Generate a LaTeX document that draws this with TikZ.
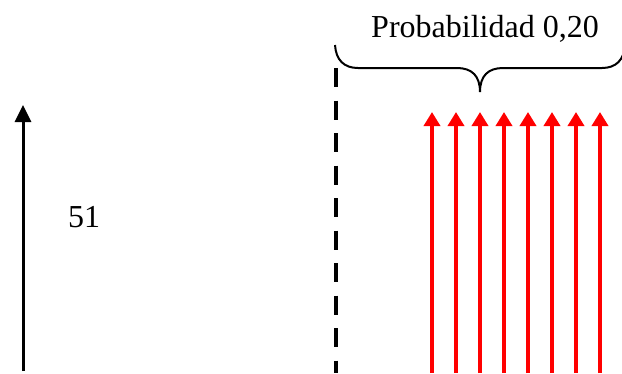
\documentclass[tikz,border=0pt]{standalone}
\usepackage{fontspec}
\setmainfont{Liberation Serif}
\usetikzlibrary{arrows.meta}
\tikzset{
  blackarrow/.style={line width=3pt,-{Triangle[width=16pt,length=17pt]}},
  redarrow/.style={red,line width=4.5pt,-{Triangle[width=16pt,length=14pt]}},
  dashline/.style={line width=3.5pt,dash pattern=on 19pt off 13.5pt},
  bracepath/.style={line width=2pt},
  lbl/.style={font=\fontsize{32}{38}\selectfont,inner sep=0pt,anchor=base}
}
\begin{document}
\begin{tikzpicture}[x=1pt,y=-1pt]
\useasboundingbox (0,0) rectangle (622,373);
% black arrow
\coordinate (b0) at (23,371);
\coordinate (b1) at (23,105);
\draw[blackarrow] (b0) -- (b1);
\node[lbl] (n51) at (84,227) {51};
% dashed line
\coordinate (d0) at (336,68);
\coordinate (d1) at (336,373);
\draw[dashline] (d0) -- (d1);
% brace
\coordinate (bl) at (335,45);
\coordinate (bt) at (480,92);
\coordinate (br) at (625,45);
\draw[bracepath] (bl) .. controls (336,60) and (344,68) .. (358,68)
  -- (457,68) .. controls (472,68) and (480,76) .. (bt)
  .. controls (480,76) and (488,68) .. (503,68)
  -- (602,68) .. controls (616,68) and (624,60) .. (br);
\node[lbl] (prob) at (485,37) {Probabilidad 0,20};
% red arrows
\foreach \i in {0,...,7}{
  \coordinate (r\i a) at (432+24*\i,373);
  \coordinate (r\i b) at (432+24*\i,112);
  \draw[redarrow] (r\i a) -- (r\i b);
}
\end{tikzpicture}
\end{document}
